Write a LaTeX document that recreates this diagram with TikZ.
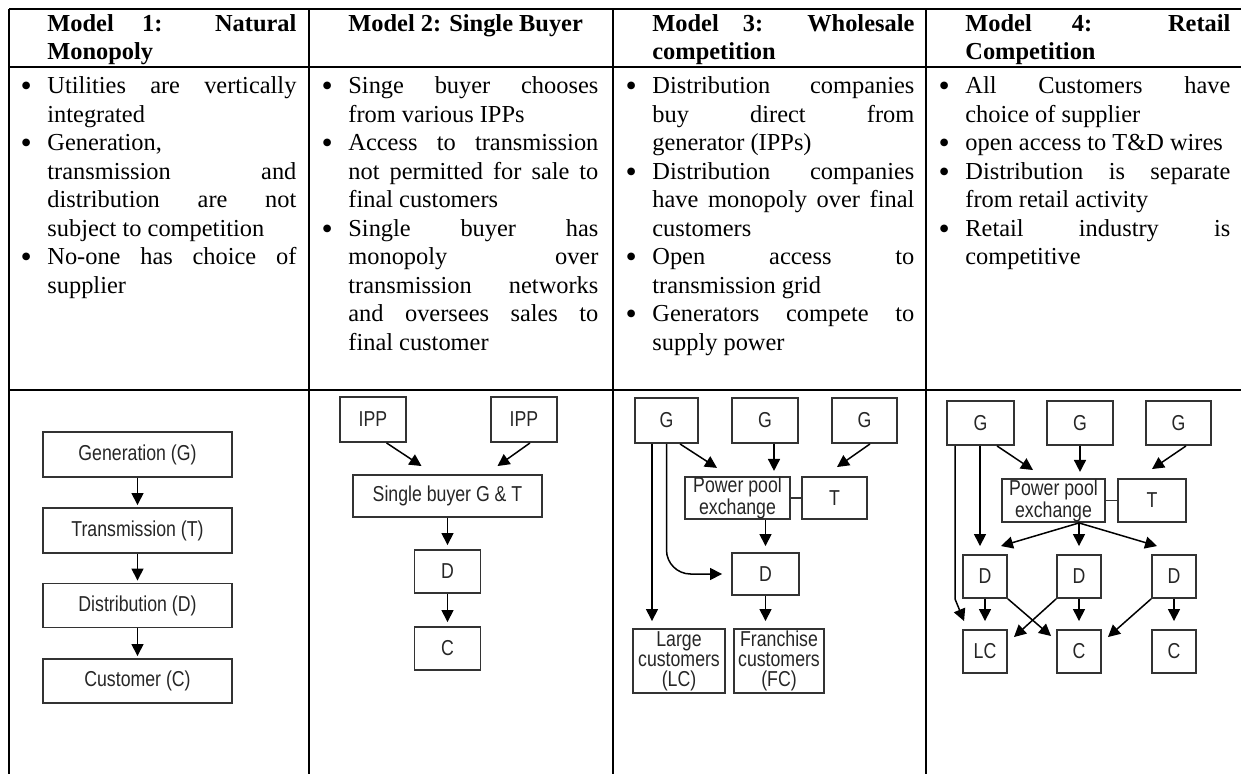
\documentclass[tikz,border=0pt]{standalone}
\usepackage{fontspec}
\setmainfont{Liberation Serif}
\newfontfamily\diagfont[FakeStretch=0.82]{Liberation Sans}
\usetikzlibrary{arrows.meta,calc}

\tolerance=10000
\pretolerance=-1
\hbadness=10000
\hyphenpenalty=10000

% bullets of a cell (first one, then the others)
\newcommand{\bdot}{\hbox to 14pt{\hskip0.6pt\smash{\raisebox{-1.3pt}{\fontsize{16}{0}\selectfont\textbullet}}\hfil}}
\newcommand{\fbul}{\noindent\hangindent=14pt\hangafter=1\bdot}
\newcommand{\bul}{\par\noindent\hangindent=14pt\hangafter=1\bdot}

\tikzset{
  grid/.style={line width=1.2pt},
  hdr/.style={anchor=base west, inner sep=0pt, align=justify, font=\bfseries\fontsize{12.2}{14}\selectfont},
  txt/.style={anchor=base west, inner sep=0pt, align=justify, font=\fontsize{12.2}{14.25}\selectfont},
  box/.style={draw=black!80, line width=0.95pt, inner sep=0pt, align=center, text=black!85,
    font=\diagfont\fontsize{10.8}{10}\selectfont},
  arr/.style={line width=0.75pt, -{Triangle[length=6pt,width=6pt]}},
}

\begin{document}
\begin{tikzpicture}[x=0.5pt,y=-0.5pt]
\useasboundingbox (0,0) rectangle (1241,774);

% table rules
\draw[grid] (9,9) -- (1241,9);
\draw[grid] (9,67) -- (1241,67);
\draw[grid] (9,390) -- (1241,390);
\draw[grid] (9,9) -- (9,774);
\draw[grid] (309,9) -- (309,774);
\draw[grid] (613,9) -- (613,774);
\draw[grid] (926,9) -- (926,774);

% headings
\draw (47,32) node[hdr,text width=124.5pt] (h1) {Model 1: Natural\linebreak Monopoly};
\draw (348,32) node[hdr,text width=125pt] (h2) {Model 2: Single Buyer};
\draw (652,32) node[hdr,text width=131pt] (h3) {Model 3: Wholesale\linebreak competition};
\draw (965,32) node[hdr,text width=132.5pt] (h4) {Model 4: Retail\linebreak Competition};

% bullets
\draw (19,94) node[txt,text width=138.5pt] (b1) {%
\fbul Utilities are vertically\linebreak integrated
\bul Generation,\linebreak transmission and\linebreak distribution are not\linebreak subject to competition
\bul No-one has choice of\linebreak supplier\par};
\draw (320,94) node[txt,text width=139pt] (b2) {%
\fbul Singe buyer chooses\linebreak from various IPPs
\bul Access to transmission\linebreak not permitted for sale to\linebreak final customers
\bul Single buyer has\linebreak monopoly over\linebreak transmission networks\linebreak and oversees sales to\linebreak final customer\par};
\draw (624,94) node[txt,text width=145pt] (b3) {%
\fbul Distribution companies\linebreak buy direct from\linebreak generator (IPPs)
\bul Distribution companies\linebreak have monopoly over final\linebreak customers
\bul Open access to\linebreak transmission grid
\bul Generators compete to\linebreak supply power\par};
\draw (937,94) node[txt,text width=146.5pt] (b4) {%
\fbul All Customers have\linebreak choice of supplier
\bul open access to T\&D wires
\bul Distribution is separate\linebreak from retail activity
\bul Retail industry is\linebreak competitive\par};

% model 1
\draw (137.5,454.5) node[box,minimum width=94.5pt,minimum height=22.5pt] (gen) {Generation (G)};
\draw (137.5,530.5) node[box,minimum width=94.5pt,minimum height=22.5pt] (trans) {Transmission (T)};
\draw (137.5,605.5) node[box,minimum width=94.5pt,minimum height=22pt] (dist) {Distribution (D)};
\draw (137.5,681) node[box,minimum width=94.5pt,minimum height=22pt] (cust) {Customer (C)};
\draw[arr,shorten >=1pt] (gen) -- (trans);
\draw[arr,shorten >=1pt] (trans) -- (dist);
\draw[arr,shorten >=1pt] (dist) -- (cust);

% model 2
\draw (373,419.5) node[box,minimum width=33pt,minimum height=22.5pt] (ippa) {IPP};
\draw (524,419.5) node[box,minimum width=33pt,minimum height=22.5pt] (ippb) {IPP};
\draw (447.5,496) node[box,minimum width=94.5pt,minimum height=21pt] (sbuyer) {Single buyer G \& T};
\draw (447.5,571.5) node[box,minimum width=33pt,minimum height=21.5pt] (sbd) {D};
\draw (447.5,648.5) node[box,minimum width=33pt,minimum height=21.5pt] (sbc) {C};
\draw[arr] (ippa.-60) -- ($(sbuyer.north)+(-26,-8)$);
\draw[arr] ($(ippb.south)+(6,0)$) -- ($(sbuyer.north)+(50,-8)$);
\draw[arr,shorten >=2pt] (sbuyer) -- (sbd);
\draw[arr,shorten >=2pt] (sbd) -- (sbc);

% model 3
\draw (666.5,420.5) node[box,minimum width=31.5pt,minimum height=22.5pt] (wg1) {G};
\draw (765,420.5) node[box,minimum width=33pt,minimum height=22.5pt] (wg2) {G};
\draw (864.5,420.5) node[box,minimum width=32.5pt,minimum height=22.5pt] (wg3) {G};
\draw (737.5,498) node[box,minimum width=52.5pt,minimum height=21pt] (wpool) {Power pool\\exchange};
\draw (834.5,498) node[box,minimum width=32.5pt,minimum height=21pt] (wt) {T};
\draw (765.5,574) node[box,minimum width=33.5pt,minimum height=21pt] (wd) {D};
\draw (679,661) node[box,minimum width=46pt,minimum height=32pt] (wlc) {Large\\customers\\(LC)};
\draw (779,661) node[box,minimum width=45pt,minimum height=32pt] (wfc) {Franchise\\customers\\(FC)};
\draw[arr] ($(wg1.south)+(13.5,0)$) -- ($(wpool.north)+(-20.5,-8)$);
\draw[arr] ($(wg2.south)+(9,0)$) -- ++(0,27);
\draw[arr] ($(wg3.south)+(5.5,0)$) -- ($(wt.north)+(2.5,-9)$);
\draw[line width=0.95pt,black!80] (wpool) -- (wt);
\draw[arr,shorten >=3pt] (wd.north |- wpool.south) -- (wd.north);
\draw[arr] ($(wg1.south)+(-14.5,0)$) -- ($(wlc.north)+(-27,-7)$);
\draw[arr,rounded corners=12pt] (wg1.south) |- ($(wd.west)+(-9,0)$);
\draw[arr,shorten >=3.5pt] (wd.south) -- (wd.south |- wfc.north);

% model 4
\draw (980.5,423) node[box,minimum width=33.5pt,minimum height=22pt] (rg1) {G};
\draw (1080,423) node[box,minimum width=33pt,minimum height=22pt] (rg2) {G};
\draw (1178.5,423) node[box,minimum width=32.5pt,minimum height=22pt] (rg3) {G};
\draw (1053.5,500.5) node[box,minimum width=51.5pt,minimum height=21.5pt] (rpool) {Power pool\\exchange};
\draw (1152,500.5) node[box,minimum width=34pt,minimum height=21.5pt] (rt) {T};
\draw (985,576.5) node[box,minimum width=22pt,minimum height=21.5pt] (rd1) {D};
\draw (1079,576.5) node[box,minimum width=22pt,minimum height=21.5pt] (rd2) {D};
\draw (1174,576.5) node[box,minimum width=22pt,minimum height=21.5pt] (rd3) {D};
\draw (985,651.5) node[box,minimum width=22pt,minimum height=21.5pt] (rlc) {LC};
\draw (1079,651.5) node[box,minimum width=22pt,minimum height=21.5pt] (rc1) {C};
\draw (1174,651.5) node[box,minimum width=22pt,minimum height=21.5pt] (rc2) {C};
\coordinate (rsrc) at ($(rpool.south)+(25.5,0)$);
\draw[arr] ($(rg1.south)+(16.5,0)$) -- ($(rpool.north)+(-20.5,-8)$);
\draw[arr] (rg2.south) -- ++(0,26);
\draw[arr] ($(rg3.south)+(7.5,0)$) -- ($(rt.north)+(0,-9)$);
\draw[line width=0.95pt,black!80] (rpool) -- (rt);
\draw[arr] ($(rg1.south)+(-0.5,0)$) -- ($(rd1.north)+(-5,-8)$);
\draw[arr] ($(rg1.south)+(-25.5,0)$) -- ++(0,153) -- ($(rlc.north west)+(2,-8)$);
\draw[arr] (rsrc) -- ($(rd1.north east)+(-7,-8)$);
\draw[arr] (rsrc) -- ($(rd2.north)+(0,-8)$);
\draw[arr] (rsrc) -- ($(rd3.north west)+(6,-8)$);
\draw[arr] (rd1.south) -- ($(rlc.north)+(0,-8)$);
\draw[arr] (rd1.south east) -- ($(rc1.north west)+(-5,7)$);
\draw[arr] (rd2.south west) -- ($(rlc.north east)+(6,8)$);
\draw[arr] (rd2.south) -- ($(rc1.north)+(0,-8)$);
\draw[arr] (rd3.south west) -- ($(rc1.north east)+(6,8)$);
\draw[arr] (rd3.south) -- ($(rc2.north)+(0,-8)$);

\end{tikzpicture}
\end{document}
